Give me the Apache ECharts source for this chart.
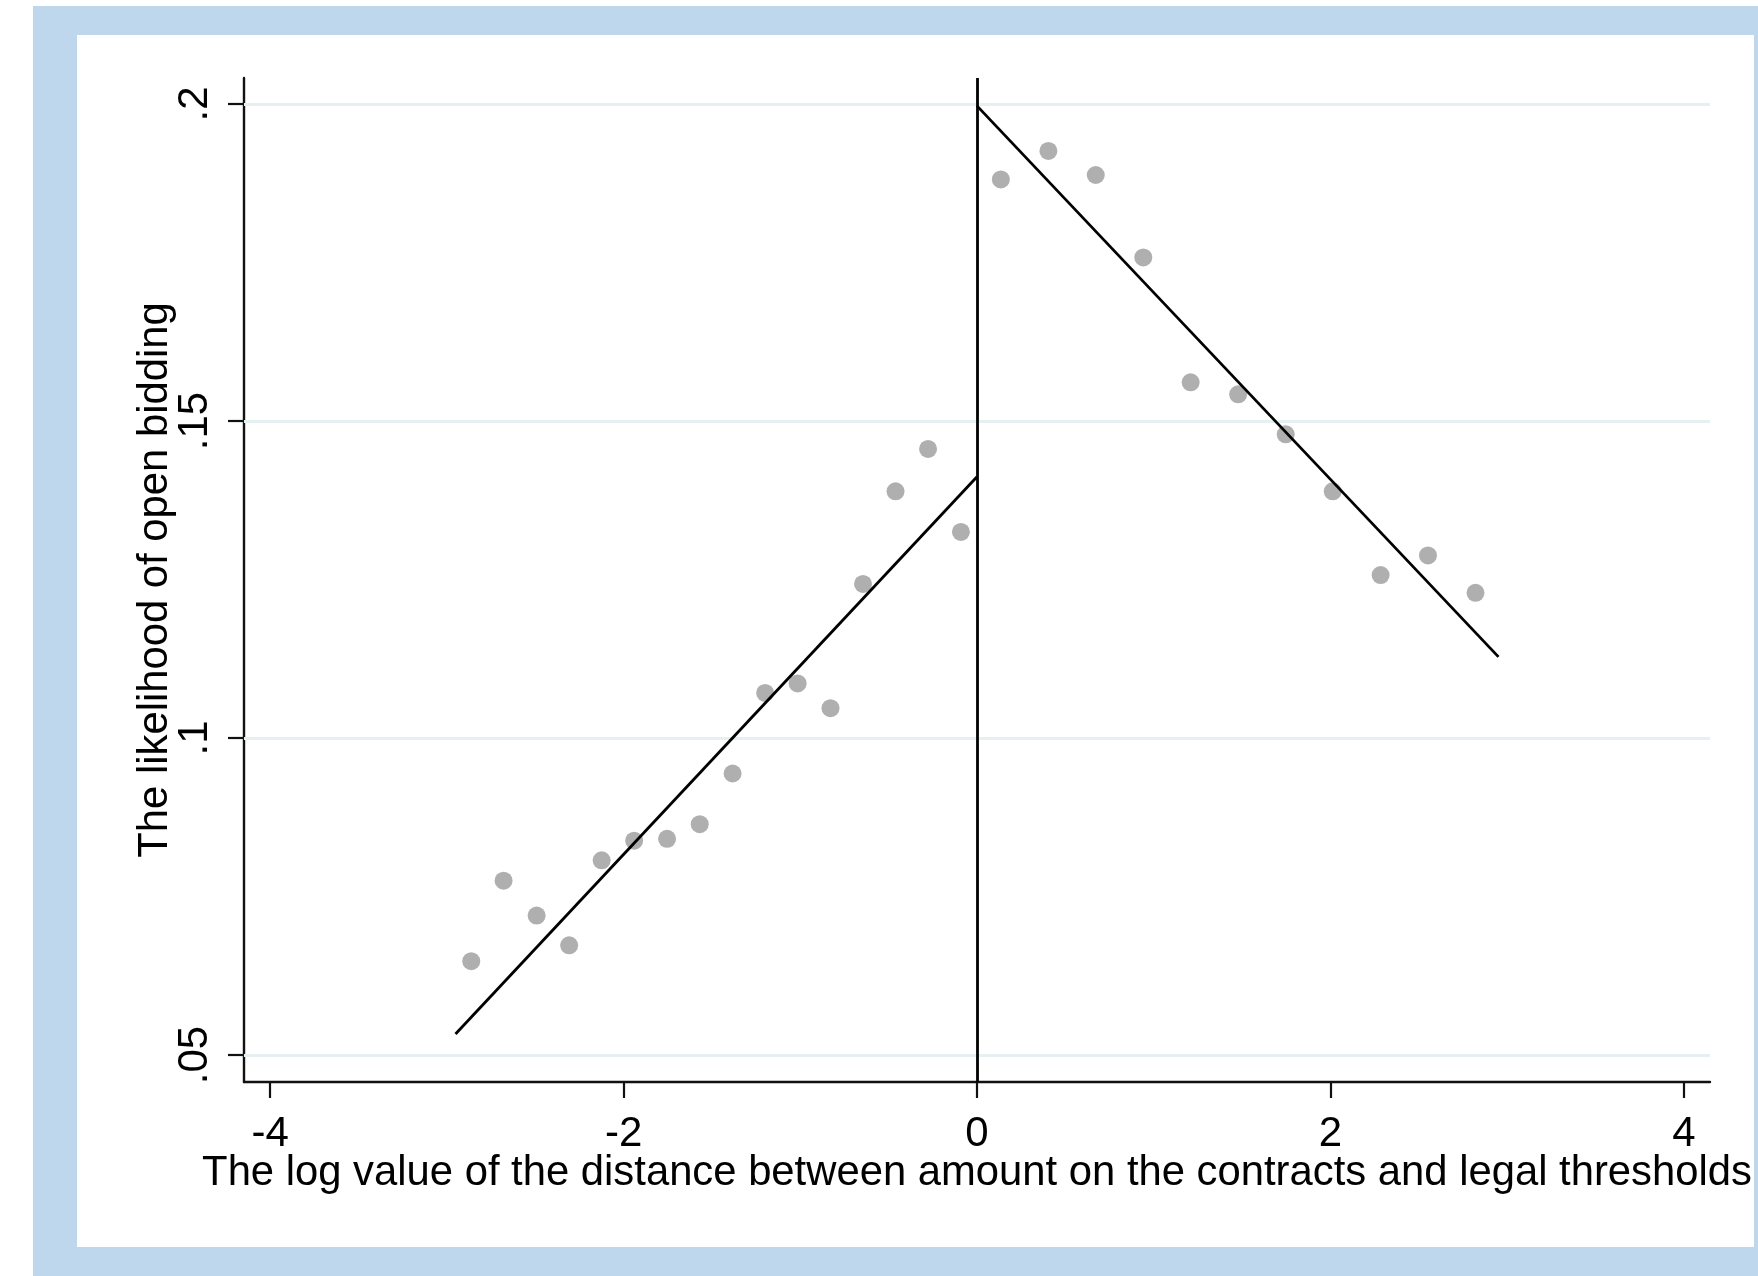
<!DOCTYPE html>
<html>
<head>
<meta charset="utf-8">
<script src="https://cdn.jsdelivr.net/npm/echarts@6/dist/echarts.min.js"></script>
<style>
html,body{margin:0;padding:0;background:#fff;}
#chart{width:1758px;height:1276px;}
</style>
</head>
<body>
<div id="chart"></div>
<script>
// ---- data ----
const leftX  = [-2.862,-2.679,-2.492,-2.308,-2.124,-1.940,-1.754,-1.569,-1.383,-1.199,-1.015,-0.829,-0.645,-0.461,-0.277,-0.091];
const leftY  = [0.0648,0.0775,0.0720,0.0673,0.0807,0.0838,0.0841,0.0864,0.0944,0.1071,0.1086,0.1047,0.1243,0.1389,0.1456,0.1325];
const rightX = [0.135,0.404,0.672,0.941,1.209,1.478,1.747,2.013,2.284,2.552,2.821];
const rightY = [0.1881,0.1926,0.1888,0.1758,0.1561,0.1542,0.1479,0.1389,0.1257,0.1288,0.1229];
const leftFitX  = [-2.951, 0];
const leftFitY  = [0.0533, 0.1412];
const rightFitX = [0, 2.951];
const rightFitY = [0.1997, 0.1128];
const cutoff = [0];
const xTicks = [-4,-2,0,2,4];
const xTickLabels = ['-4','-2','0','2','4'];
const yTicks = [0.05,0.1,0.15,0.2];
const yTickLabels = ['.05','.1','.15','.2'];
const xTitle = 'The log value of the distance between amount on the contracts and legal thresholds';
const yTitle = 'The likelihood of open bidding';

const zip = (a,b)=>a.map((v,i)=>[v,b[i]]);
const FONT = '"Liberation Sans", Arial, sans-serif';
const chart = echarts.init(document.getElementById('chart'), null, {renderer:'canvas'});

chart.setOption({
  animation:false,
  backgroundColor:'#ffffff',
  graphic:[
    {type:'rect', z:-100, silent:true, shape:{x:33,y:6,width:1725,height:1270}, style:{fill:'#bed7ec'}},
    {type:'rect', z:-99, silent:true, shape:{x:77,y:35,width:1677,height:1212}, style:{fill:'#ffffff'}}
  ],
  grid:{left:244, right:48, top:78, bottom:194, containLabel:false},
  xAxis:{
    type:'value', min:-4.148, max:4.148,
    name:xTitle, nameLocation:'middle', nameGap:70, nameMoveOverlap:false,
    nameTextStyle:{fontFamily:FONT, fontSize:41.8, color:'#000'},
    axisLine:{show:true, onZero:false, lineStyle:{color:'#111', width:2.4}},
    axisTick:{show:true, inside:false, length:16, customValues:xTicks, lineStyle:{color:'#111', width:2.2}},
    axisLabel:{show:true, customValues:xTicks, margin:31, fontFamily:FONT, fontSize:42, color:'#000',
      formatter:v=>{const i=xTicks.indexOf(v); return i>=0?xTickLabels[i]:'';}},
    splitLine:{show:false}
  },
  yAxis:{
    type:'value', min:0.04574, max:0.2041,
    name:yTitle, nameLocation:'middle', nameGap:68, nameMoveOverlap:false,
    nameTextStyle:{fontFamily:FONT, fontSize:41.8, color:'#000'},
    axisLine:{show:true, onZero:false, lineStyle:{color:'#111', width:2.4}},
    axisTick:{show:true, inside:false, length:16, customValues:yTicks, lineStyle:{color:'#111', width:2.2}},
    axisLabel:{show:true, customValues:yTicks, rotate:90, margin:28, fontFamily:FONT, fontSize:42, color:'#000',
      formatter:v=>{const i=yTicks.indexOf(v); return i>=0?yTickLabels[i]:'';}},
    splitLine:{show:false}
  },
  series:[
    {
      type:'scatter', data:[], z:1, silent:true,
      markLine:{silent:true, z:1, symbol:['none','none'], animation:false,
        label:{show:false},
        lineStyle:{color:'#e6eff1', width:3, type:'solid'},
        data:yTicks.map(v=>({yAxis:v}))}
    },
    {
      type:'scatter', data:zip(leftX,leftY), z:3, symbol:'circle', symbolSize:18,
      itemStyle:{color:'#9b9b9b'}
    },
    {
      type:'scatter', data:zip(rightX,rightY), z:3, symbol:'circle', symbolSize:18,
      itemStyle:{color:'#9b9b9b'}
    },
    {
      type:'line', data:zip(leftFitX,leftFitY), z:4, showSymbol:false, symbol:'none',
      lineStyle:{color:'#000', width:2.8}
    },
    {
      type:'line', data:zip(rightFitX,rightFitY), z:4, showSymbol:false, symbol:'none',
      lineStyle:{color:'#000', width:2.8}
    },
    {
      type:'scatter', data:[], z:5, silent:true,
      markLine:{silent:true, z:5, symbol:['none','none'], animation:false,
        label:{show:false},
        lineStyle:{color:'#000', width:2.8, type:'solid'},
        data:cutoff.map(v=>({xAxis:v}))}
    }
  ]
});
</script>
</body>
</html>
